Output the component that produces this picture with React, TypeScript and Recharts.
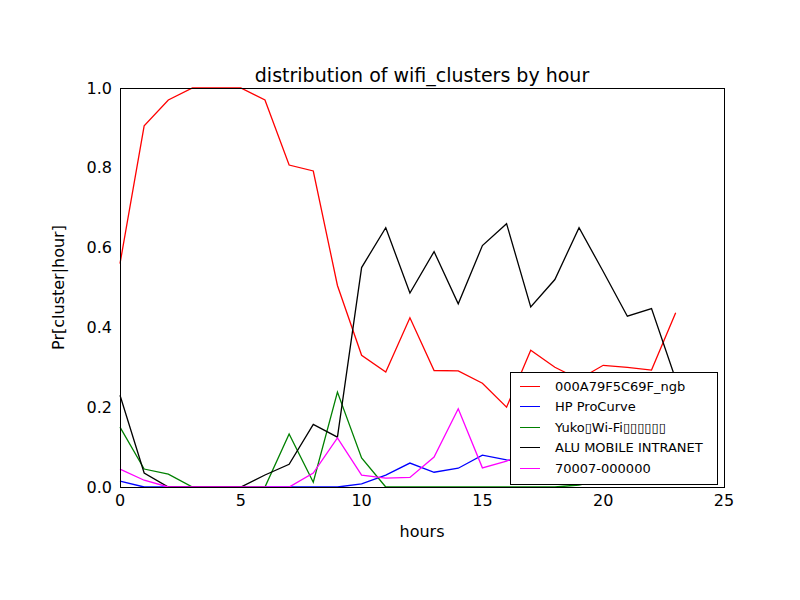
import { CartesianGrid, Line, LineChart, XAxis, YAxis } from "recharts";

const hours = Array.from({ length: 24 }, (_, i) => i);
const red = [0.56, 0.905, 0.97, 1, 1, 1, 0.97, 0.807, 0.792, 0.505, 0.33, 0.288, 0.424, 0.292, 0.291, 0.26, 0.2, 0.343, 0.3, 0.27, 0.305, 0.3, 0.293, 0.437];
const blue = [0.015, 0, 0, 0, 0, 0, 0, 0, 0, 0, 0.008, 0.03, 0.06, 0.037, 0.047, 0.08, 0.068, 0.06, 0.03, 0.01, 0.03, 0.04, 0.04, 0.05];
const green = [0.15, 0.045, 0.032, 0, 0, 0, 0, 0.133, 0.012, 0.238, 0.073, 0, 0, 0, 0, 0, 0, 0, 0, 0.005, 0.02, 0.03, 0.03, 0.03];
const black = [0.23, 0.035, 0, 0, 0, 0, 0.03, 0.057, 0.157, 0.125, 0.55, 0.65, 0.486, 0.59, 0.459, 0.605, 0.66, 0.451, 0.52, 0.65, 0.54, 0.428, 0.447, 0.27];
const magenta = [0.045, 0.017, 0, 0, 0, 0, 0, 0, 0.035, 0.123, 0.03, 0.022, 0.024, 0.075, 0.196, 0.048, 0.065, 0.09, 0.08, 0.06, 0.05, 0.05, 0.05, 0.05];

const SERIES = [
  { key: "red", name: "000A79F5C69F_ngb", color: "#ff0000", values: red },
  { key: "blue", name: "HP ProCurve", color: "#0000ff", values: blue },
  { key: "green", name: "Yuko\u25afWi-Fi\u25af\u25af\u25af\u25af\u25af\u25af", color: "#008000", values: green },
  { key: "black", name: "ALU MOBILE INTRANET", color: "#000000", values: black },
  { key: "magenta", name: "70007-000000", color: "#ff00ff", values: magenta },
];

const xTicks = [0, 5, 10, 15, 20, 25];
const yTicks = [0, 0.2, 0.4, 0.6, 0.8, 1.0];

const data = hours.map((h, i) => {
  const row: Record<string, number> = { hour: h };
  SERIES.forEach((s) => (row[s.key] = s.values[i]));
  return row;
});

const font = "'DejaVu Sans', sans-serif";

export default function App() {
  return (
    <div style={{ position: "absolute", left: 0, top: 0, width: 800, height: 600, background: "#fff", fontFamily: font }}>
      <div style={{ position: "absolute", top: 64, left: 120, width: 604, textAlign: "center", fontSize: 19 }}>
        distribution of wifi_clusters by hour
      </div>
      <LineChart width={800} height={600} data={data} margin={{ top: 88, right: 76, bottom: 83, left: 60 }}>
        <CartesianGrid horizontal={false} vertical={false} />
        <XAxis
          dataKey="hour"
          type="number"
          domain={[0, 25]}
          ticks={xTicks}
          tick={{ fill: "#000", fontSize: 16, fontFamily: font }}
          tickLine={false}
          axisLine={false}
          height={30}
          label={{ value: "hours", position: "insideBottom", offset: -20, fill: "#000", fontSize: 16, fontFamily: font }}
        />
        <YAxis
          type="number"
          domain={[0, 1]}
          ticks={yTicks}
          tickFormatter={(v: number) => v.toFixed(1)}
          tick={{ fill: "#000", fontSize: 16, fontFamily: font }}
          tickLine={false}
          axisLine={false}
          width={60}
          label={{ value: "Pr[cluster|hour]", angle: -90, position: "insideLeft", offset: -2, dy: 0, fill: "#000", fontSize: 16, fontFamily: font, style: { textAnchor: "middle" } }}
        />
        {SERIES.map((s) => (
          <Line key={s.key} dataKey={s.key} name={s.name} stroke={s.color} strokeWidth={1.3} dot={false} type="linear" isAnimationActive={false} />
        ))}
      </LineChart>
      <div style={{ position: "absolute", left: 120, top: 88, width: 603, height: 398, border: "1px solid #000", pointerEvents: "none" }} />
      <div style={{ position: "absolute", left: 510, top: 372, width: 206, height: 108, border: "1px solid #000", background: "#fff", fontSize: 13, padding: "3px 0 0 0" }}>
        {SERIES.map((s) => (
          <div key={s.key} style={{ display: "flex", alignItems: "center", height: 20.5 }}>
            <div style={{ width: 20, height: 0, borderTop: `1.3px solid ${s.color}`, margin: "0 15px 0 9px" }} />
            <span style={{ whiteSpace: "nowrap" }}>{s.name}</span>
          </div>
        ))}
      </div>
    </div>
  );
}
